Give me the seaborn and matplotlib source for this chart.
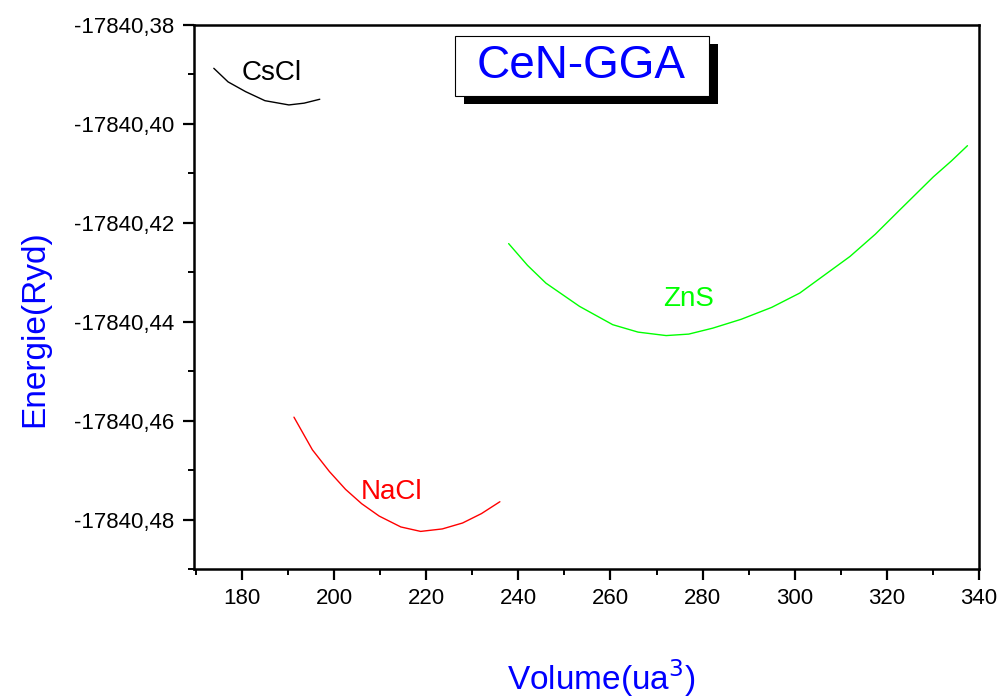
import pandas as pd
import seaborn as sns
import matplotlib.pyplot as plt
import numpy as np
from matplotlib.patches import Rectangle
from matplotlib.ticker import FixedLocator, FuncFormatter

# values (volume in ua^3, energy in Ryd)
cscl_v = [173.9, 177.0, 180.8, 185.0, 190.2, 193.5, 196.9]
cscl_e = [-17840.38875, -17840.3915, -17840.39347, -17840.3953, -17840.39616, -17840.3958, -17840.39501]

nacl_v = [191.3, 195.3, 199.0, 202.5, 206.0, 209.8, 214.5, 218.8, 223.5, 227.9, 232.0, 236.0]
nacl_e = [-17840.4593, -17840.4659, -17840.4703, -17840.4739, -17840.4768, -17840.4793, -17840.4815,
          -17840.4824, -17840.4819, -17840.4807, -17840.4788, -17840.4764]

zns_v = [237.9, 242.0, 246.0, 253.3, 260.5, 266.0, 272.1, 277.0, 282.2, 288.4, 295.0, 301.1, 312.0,
         317.5, 322.8, 330.1, 334.0, 337.5]
zns_e = [-17840.4242, -17840.4286, -17840.4322, -17840.4369, -17840.4406, -17840.4421, -17840.4428,
         -17840.4425, -17840.4413, -17840.4395, -17840.4371, -17840.4342, -17840.4268, -17840.4223,
         -17840.4174, -17840.4107, -17840.4075, -17840.4044]

phases = ['CsCl', 'NaCl', 'ZnS']
colors = {'CsCl': 'black', 'NaCl': '#ff0000', 'ZnS': '#00ff00'}

xticks = [180, 200, 220, 240, 260, 280, 300, 320, 340]
yticks = [-17840.48, -17840.46, -17840.44, -17840.42, -17840.40, -17840.38]
yminor = [-17840.49, -17840.47, -17840.45, -17840.43, -17840.41, -17840.39]

df = pd.concat([
    pd.DataFrame({'V': cscl_v, 'E': cscl_e, 'phase': 'CsCl'}),
    pd.DataFrame({'V': nacl_v, 'E': nacl_e, 'phase': 'NaCl'}),
    pd.DataFrame({'V': zns_v, 'E': zns_e, 'phase': 'ZnS'}),
])

sns.set_style('ticks')
plt.rcParams['font.family'] = ['Liberation Sans', 'DejaVu Sans']

fig = plt.figure(figsize=(10.01, 6.99), dpi=100)
ax = fig.add_axes([0.1938, 0.186, 0.7842, 0.7782])

sns.lineplot(data=df, x='V', y='E', hue='phase', palette=colors, estimator=None,
             sort=False, legend=False, linewidth=1.0, ax=ax)

ax.set_xlim(169.6, 340)
ax.set_ylim(-17840.49, -17840.38)

ax.xaxis.set_major_locator(FixedLocator(xticks))
ax.xaxis.set_minor_locator(FixedLocator([170 + 20 * i for i in range(9)]))
ax.yaxis.set_major_locator(FixedLocator(yticks))
ax.yaxis.set_minor_locator(FixedLocator(yminor))
ax.yaxis.set_major_formatter(FuncFormatter(lambda v, p: f"{v:.2f}".replace('.', ',')))
ax.xaxis.set_major_formatter(FuncFormatter(lambda v, p: f"{v:.0f}"))

for s in ax.spines.values():
    s.set_linewidth(1.8)
    s.set_color('black')

ax.tick_params(which='major', direction='out', length=8, width=1.6, labelsize=16, pad=6,
               colors='black')
ax.tick_params(which='minor', direction='out', length=4, width=1.4, colors='black')
ax.tick_params(which='both', top=False, right=False)

ax.set_xlabel('')
ax.set_ylabel('')
fig.text(0.035, 0.53, 'Energie(Ryd)', rotation=90, color='#0000ff', fontsize=24,
         ha='center', va='center')
fig.text(0.601, 0.03, 'Volume(ua$^3$)', color='#0000ff', fontsize=24,
         ha='center', va='center')

# curve labels
ax.text(186.5, -17840.3897, 'CsCl', color='black', fontsize=20, ha='center', va='center')
ax.text(212.4, -17840.4745, 'NaCl', color='#ff0000', fontsize=20, ha='center', va='center')
ax.text(277.0, -17840.4354, 'ZnS', color='#00ff00', fontsize=20, ha='center', va='center')

# title box with drop shadow
fig.patches.append(Rectangle((464 / 1001, 1 - 104 / 699), 254 / 1001, 60 / 699,
                             transform=fig.transFigure, facecolor='black', edgecolor='none',
                             zorder=5))
fig.patches.append(Rectangle((455 / 1001, 1 - 96 / 699), 254 / 1001, 60 / 699,
                             transform=fig.transFigure, facecolor='white', edgecolor='black',
                             linewidth=0.8, zorder=6))
fig.text(581 / 1001, 1 - 66 / 699, 'CeN-GGA', color='#0000ff', fontsize=33,
         ha='center', va='center', zorder=7)

fig.savefig('out.png', dpi=100)
